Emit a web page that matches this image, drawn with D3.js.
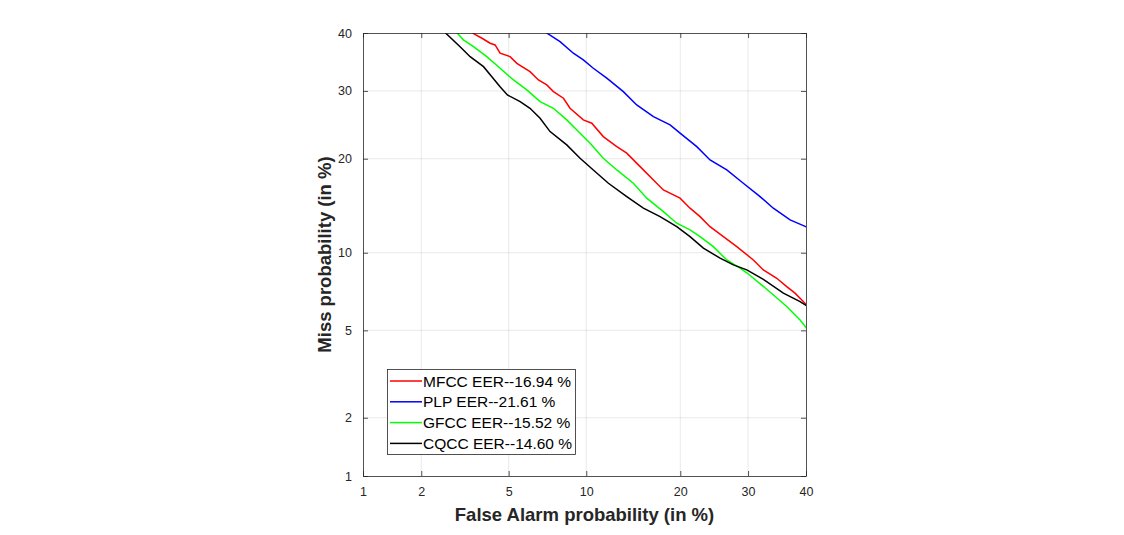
<!DOCTYPE html>
<html>
<head>
<meta charset="utf-8">
<script src="https://cdn.jsdelivr.net/npm/d3@7"></script>
<style>
  body { margin: 0; background: #fff; }
  text { font-family: "Liberation Sans", Arial, sans-serif; }
</style>
</head>
<body>
<script>
// DET curve values, in %
var ticks = [1, 2, 5, 10, 20, 30, 40];

var mfccFa   = [3.46, 3.84, 4.17, 4.38, 4.60, 5.07, 5.41, 6.12, 6.61, 7.13, 7.56, 8.25, 8.73, 9.76, 10.46, 11.47, 12.74, 13.74, 15.16, 16.67, 17.86, 19.97, 21.30, 22.69, 24.12, 26.11, 28.19, 30.86, 32.53, 34.82, 36.56, 38.03, 40.1];
var mfccMiss = [40.06, 39.05, 38.16, 37.86, 36.39, 35.79, 34.64, 33.21, 31.81, 30.98, 29.89, 28.82, 27.24, 25.46, 24.97, 23.02, 21.62, 20.73, 18.98, 17.34, 16.16, 15.24, 14.16, 13.29, 12.31, 11.39, 10.51, 9.42, 8.66, 8.06, 7.49, 7.07, 6.36];

var plpFa   = [7.09, 8.01, 8.98, 9.76, 10.59, 11.79, 13.39, 14.79, 16.67, 18.69, 19.97, 22.23, 24.12, 26.63, 29.23, 31.98, 34.23, 37.15, 40.1];
var plpMiss = [40.06, 38.44, 36.39, 35.22, 33.79, 32.10, 29.89, 27.76, 25.96, 24.71, 23.51, 21.62, 19.84, 18.56, 16.94, 15.41, 14.16, 12.97, 12.28];

var gfccFa   = [2.96, 3.17, 3.52, 4.03, 4.60, 5.24, 5.94, 6.71, 7.56, 8.49, 9.25, 10.32, 11.47, 12.74, 14.43, 15.90, 17.86, 19.54, 21.30, 22.69, 24.61, 26.63, 28.71, 29.79, 33.11, 36.56, 38.93, 40.1];
var gfccMiss = [40.06, 38.75, 37.55, 35.79, 33.79, 31.81, 30.16, 28.28, 27.24, 25.46, 23.98, 22.09, 20.06, 18.56, 16.94, 15.24, 13.80, 12.64, 12.01, 11.39, 10.51, 9.42, 8.79, 8.45, 7.32, 6.26, 5.52, 5.11];

var cqccFa   = [2.61, 3.06, 3.40, 3.90, 4.24, 4.60, 4.94, 5.58, 6.12, 6.71, 7.34, 8.49, 9.50, 10.59, 11.94, 13.74, 15.52, 17.46, 19.54, 21.30, 23.16, 25.61, 27.65, 29.79, 32.53, 35.97, 38.93, 40.1];
var cqccMiss = [40.06, 37.55, 35.79, 34.06, 32.36, 30.70, 29.35, 28.28, 27.24, 25.71, 23.74, 21.86, 20.06, 18.56, 16.94, 15.41, 14.16, 13.29, 12.31, 11.39, 10.38, 9.56, 9.04, 8.66, 7.99, 7.07, 6.55, 6.30];

var seriesNames = ["MFCC EER--16.94 %", "PLP EER--21.61 %", "GFCC EER--15.52 %", "CQCC EER--14.60 %"];
var seriesColors = ["#ff0000", "#0000ff", "#00ff00", "#000000"];

// inverse normal cdf (Acklam), the DET axes are probit scaled
function probit(p) {
    var a = [-39.69683028665376, 220.9460984245205, -275.9285104469687, 138.3577518672690, -30.66479806614716, 2.506628277459239];
    var b = [-54.47609879822406, 161.5858368580409, -155.6989798598866, 66.80131188771972, -13.28068155288572];
    var c = [-0.007784894002430293, -0.3223964580411365, -2.400758277161838, -2.549732539343734, 4.374664141464968, 2.938163982698783];
    var d = [0.007784695709041462, 0.3224671290700398, 2.445134137142996, 3.754408661907416];
    var q, r;
    if (p < 0.02425) {
        q = Math.sqrt(-2 * Math.log(p));
        return (((((c[0]*q+c[1])*q+c[2])*q+c[3])*q+c[4])*q+c[5]) / ((((d[0]*q+d[1])*q+d[2])*q+d[3])*q+1);
    }
    if (p > 1 - 0.02425) {
        q = Math.sqrt(-2 * Math.log(1 - p));
        return -(((((c[0]*q+c[1])*q+c[2])*q+c[3])*q+c[4])*q+c[5]) / ((((d[0]*q+d[1])*q+d[2])*q+d[3])*q+1);
    }
    q = p - 0.5;
    r = q * q;
    return (((((a[0]*r+a[1])*r+a[2])*r+a[3])*r+a[4])*r+a[5])*q / (((((b[0]*r+b[1])*r+b[2])*r+b[3])*r+b[4])*r+1);
}

var width = 1124, height = 535;
var plotLeft = 363, plotRight = 806, plotTop = 33, plotBottom = 476;
var axisColor = "#262626";

var svg = d3.select("body").append("svg")
    .attr("width", width)
    .attr("height", height);

var zx = d3.scaleLinear().domain([probit(0.01), probit(0.40)]).range([plotLeft, plotRight]);
var zy = d3.scaleLinear().domain([probit(0.01), probit(0.40)]).range([plotBottom, plotTop]);
var xs = function(v) { return zx(probit(v / 100)); };
var ys = function(v) { return zy(probit(v / 100)); };

// grid
svg.append("g").selectAll("line")
    .data(ticks.slice(1, -1)).enter().append("line")
    .attr("x1", xs).attr("x2", xs)
    .attr("y1", plotTop).attr("y2", plotBottom)
    .attr("stroke", axisColor).attr("stroke-opacity", 0.15).attr("stroke-width", 0.7);
svg.append("g").selectAll("line")
    .data(ticks.slice(1, -1)).enter().append("line")
    .attr("y1", ys).attr("y2", ys)
    .attr("x1", plotLeft).attr("x2", plotRight)
    .attr("stroke", axisColor).attr("stroke-opacity", 0.15).attr("stroke-width", 0.7);

// clip
svg.append("clipPath").attr("id", "plotclip")
    .append("rect").attr("x", plotLeft).attr("y", plotTop)
    .attr("width", plotRight - plotLeft).attr("height", plotBottom - plotTop);

var line = d3.line()
    .x(function(d) { return xs(d[0]); })
    .y(function(d) { return ys(d[1]); });

var series = [
    d3.zip(mfccFa, mfccMiss),
    d3.zip(plpFa, plpMiss),
    d3.zip(gfccFa, gfccMiss),
    d3.zip(cqccFa, cqccMiss)
];

svg.append("g").attr("clip-path", "url(#plotclip)")
    .selectAll("path")
    .data(series).enter().append("path")
    .attr("d", line)
    .attr("fill", "none")
    .attr("stroke", function(d, i) { return seriesColors[i]; })
    .attr("stroke-width", 1.5);

// axes, ticks point inwards on all four sides
function styleAxis(g) {
    g.selectAll("path").attr("stroke", axisColor).attr("stroke-width", 0.8);
    g.selectAll("line").attr("stroke", axisColor).attr("stroke-width", 0.8);
    g.selectAll("text").attr("fill", axisColor).style("font-size", "12.5px")
        .style("font-family", "'Liberation Sans', Arial, sans-serif");
}
var xPix = d3.scaleLinear().domain([plotLeft, plotRight]).range([plotLeft, plotRight]);
var yPix = d3.scaleLinear().domain([plotTop, plotBottom]).range([plotTop, plotBottom]);

svg.append("g").attr("transform", "translate(0," + plotBottom + ")")
    .call(d3.axisBottom(xPix)
        .tickValues(ticks.map(xs)).tickFormat(function(d, i) { return ticks[i]; })
        .tickSizeInner(-5).tickSizeOuter(0).tickPadding(11.5))
    .call(styleAxis);
svg.append("g").attr("transform", "translate(0," + plotTop + ")")
    .call(d3.axisTop(xPix)
        .tickValues(ticks.map(xs)).tickFormat("")
        .tickSizeInner(-5).tickSizeOuter(0))
    .call(styleAxis);
svg.append("g").attr("transform", "translate(" + plotLeft + ",0)")
    .call(d3.axisLeft(yPix)
        .tickValues(ticks.map(ys)).tickFormat(function(d, i) { return ticks[i]; })
        .tickSizeInner(-5).tickSizeOuter(0).tickPadding(11))
    .call(styleAxis);
svg.append("g").attr("transform", "translate(" + plotRight + ",0)")
    .call(d3.axisRight(yPix)
        .tickValues(ticks.map(ys)).tickFormat("")
        .tickSizeInner(-5).tickSizeOuter(0))
    .call(styleAxis);

// axis titles
svg.append("text")
    .attr("x", (plotLeft + plotRight) / 2).attr("y", 521)
    .attr("text-anchor", "middle")
    .attr("fill", axisColor)
    .style("font-size", "18.5px").style("font-weight", "bold")
    .text("False Alarm probability (in %)");
svg.append("text")
    .attr("transform", "translate(331," + (plotTop + plotBottom) / 2 + ") rotate(-90)")
    .attr("text-anchor", "middle")
    .attr("fill", axisColor)
    .style("font-size", "18.5px").style("font-weight", "bold")
    .text("Miss probability (in %)");

// legend
var lg = svg.append("g");
lg.append("rect")
    .attr("x", 387.5).attr("y", 369.5)
    .attr("width", 188).attr("height", 85)
    .attr("fill", "#fff").attr("stroke", axisColor).attr("stroke-width", 0.8);
var rows = lg.selectAll("g")
    .data(seriesNames).enter().append("g")
    .attr("transform", function(d, i) { return "translate(0," + (381 + i * 20.8) + ")"; });
rows.append("line")
    .attr("x1", 390).attr("x2", 422)
    .attr("stroke", function(d, i) { return seriesColors[i]; })
    .attr("stroke-width", 1.5);
rows.append("text")
    .attr("x", 423).attr("dy", "0.36em")
    .attr("fill", "#000")
    .style("font-size", "15.5px")
    .text(function(d) { return d; });
</script>
</body>
</html>
